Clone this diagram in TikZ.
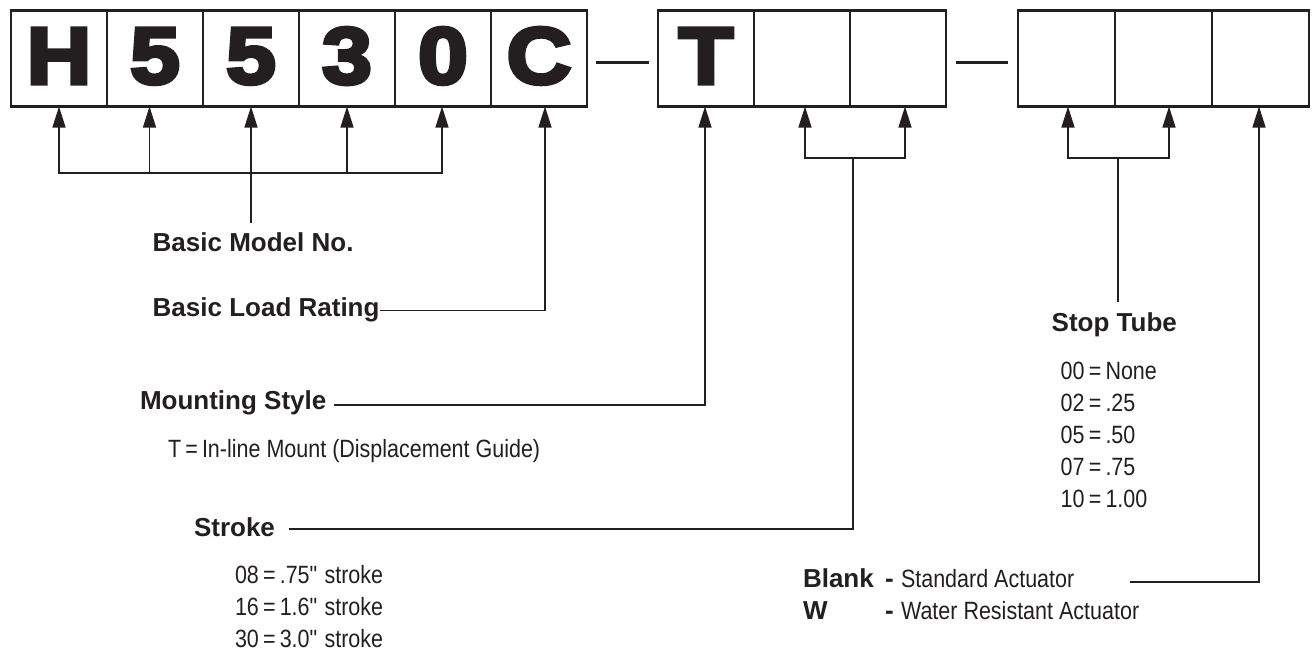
\documentclass[tikz,border=0pt]{standalone}
\usepackage{fontspec}
\setmainfont{Liberation Sans}
\newfontfamily\narrowfont[FakeStretch=0.86]{Liberation Sans}
\newfontfamily\boxfont[BoldFeatures={FakeBold=5,FakeStretch=1.12}]{Liberation Sans}
\usetikzlibrary{positioning,arrows.meta}
\definecolor{ink}{RGB}{35,31,32}

\begin{document}
\begin{tikzpicture}
                [x=1pt,y=-1pt,node distance=0pt,
                every node/.style={inner sep=0pt,outer sep=0pt,text=ink},
                box/.style={draw=ink,line width=2.6pt,minimum width=96pt,minimum height=96pt,
                        font=\boxfont\bfseries\fontsize{80}{80}\selectfont,text height=58pt,text depth=8pt},
                sep/.style={draw=ink,line width=3pt},
                lbl/.style={anchor=base west,font=\bfseries\fontsize{26}{30}\selectfont},
                item/.style={anchor=base west,font=\narrowfont\fontsize{25}{30}\selectfont,
                        text height=18pt,text depth=5pt},
                line/.style={draw=ink,line width=1.3pt},
                arr/.style={line,-{Triangle[length=21pt,width=13pt]}}]
                \useasboundingbox (0,0) rectangle (1313,650);
                % model code boxes
                \node[box,anchor=north west] (b1) at (11,10.5) {H};
                \node[box] (b2) [right=of b1] {5};
                \node[box] (b3) [right=of b2] {5};
                \node[box] (b4) [right=of b3] {3};
                \node[box] (b5) [right=of b4] {0};
                \node[box] (b6) [right=of b5] {C};
                \node[box,anchor=north west] (t1) at (658,10.5) {T};
                \node[box] (t2) [right=of t1] {};
                \node[box] (t3) [right=of t2] {};
                \node[box,anchor=north west,minimum width=97pt] (u1) at (1018,10.5) {};
                \node[box,minimum width=97pt] (u2) [right=of u1] {};
                \node[box,minimum width=97pt] (u3) [right=of u2] {};
                \draw[sep] ([xshift=9pt,yshift=-4pt]b6.east) -- ([xshift=-9pt,yshift=-4pt]t1.west);
                \draw[sep] ([xshift=10pt,yshift=-4pt]t3.east) -- ([xshift=-10pt,yshift=-4pt]u1.west);
                % basic model no.
                \coordinate (mbar) at (251,173);
                \draw[arr] (mbar) -| (b1.south);
                \draw[arr] (mbar) -| ([xshift=-5.5pt]b2.south);
                \draw[arr] (mbar) -- (b3.south);
                \draw[arr] (mbar) -| (b4.south);
                \draw[arr] (mbar) -| ([xshift=-1pt]b5.south);
                \node[lbl] (model) at (152.7,251) {Basic Model No.};
                \draw[line] (mbar) -- ([yshift=9pt]model.north -| mbar);
                % load rating
                \node[lbl] (load) at (152.7,316.7) {Basic Load Rating};
                \draw[arr] ([yshift=6pt]load.base east) -| ([xshift=6pt]b6.south);
                % mounting style
                \node[lbl] (mount) at (140,409) {Mounting Style};
                \draw[arr] ([xshift=8pt,yshift=4pt]mount.base east) -| ([xshift=-1pt]t1.south);
                \node[item] (mountT) at (168,457) {T\,=\,In-line Mount (Displacement Guide)};
                % stroke
                \node[lbl] (stroke) at (194,536) {Stroke};
                \coordinate (sbar) at (853,158);
                \draw[line] ([xshift=14pt,yshift=7pt]stroke.base east) -| (sbar);
                \draw[arr] (sbar) -| ([xshift=3pt]t2.south);
                \draw[arr] (sbar) -| ([xshift=7pt]t3.south);
                \node[item] (s08) at (235,583) {08\,=\,.75\textquotedbl\ stroke};
                \node[item,below right=9pt and 0pt of s08.south west] (s16) {16\,=\,1.6\textquotedbl\ stroke};
                \node[item,below right=9pt and 0pt of s16.south west] (s30) {30\,=\,3.0\textquotedbl\ stroke};
                % stop tube
                \coordinate (tbar) at (1118,158);
                \draw[arr] (tbar) -| ([xshift=1.5pt]u1.south);
                \draw[arr] (tbar) -| ([xshift=5.5pt]u2.south);
                \node[lbl] (stop) at (1051.7,331.7) {Stop Tube};
                \draw[line] (tbar) -- ([yshift=11pt]stop.north -| tbar);
                \node[item] (st00) at (1060.7,379) {00\,=\,None};
                \node[item,below right=9pt and 0pt of st00.south west] (st02) {02\,=\,.25};
                \node[item,below right=9pt and 0pt of st02.south west] (st05) {05\,=\,.50};
                \node[item,below right=9pt and 0pt of st05.south west] (st07) {07\,=\,.75};
                \node[item,below right=9pt and 0pt of st07.south west] (st10) {10\,=\,1.00};
                % actuator
                \node[lbl] (blank) at (803,587) {Blank};
                \node[lbl] (bdash) at (885,587) {-};
                \node[item] (std) at (901,587) {Standard Actuator};
                \node[lbl] (w) at (803,619.3) {W};
                \node[lbl] (wdash) at (885,619.3) {-};
                \node[item] (wra) at (901,619.3) {Water Resistant Actuator};
                \draw[arr] ([xshift=56pt,yshift=5pt]std.base east) -| ([xshift=-1.5pt]u3.south);
            \end{tikzpicture}
\end{document}
